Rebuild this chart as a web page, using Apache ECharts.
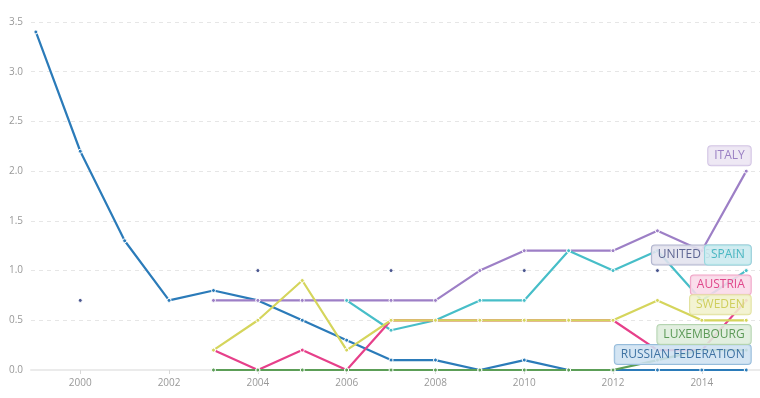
<!DOCTYPE html>
<html>
<head>
<meta charset="utf-8">
<script src="https://cdn.jsdelivr.net/npm/echarts@6/dist/echarts.min.js"></script>
<style>
  html, body { margin: 0; padding: 0; background: #fff; }
  #chart { width: 760px; height: 398px; }
</style>
</head>
<body>
<div id="chart"></div>
<script>
// years on the x axis
const years = [1999, 2000, 2001, 2002, 2003, 2004, 2005, 2006, 2007, 2008, 2009, 2010, 2011, 2012, 2013, 2014, 2015];
const yearTicks = [2000, 2002, 2004, 2006, 2008, 2010, 2012, 2014];

// values per country, null = no data
const russia     = [3.4, 2.2, 1.3, 0.7, 0.8, 0.7, 0.5, 0.3, 0.1, 0.1, 0.0, 0.1, 0.0, 0.0, 0.0, 0.0, 0.0];
const italy      = [null, null, null, null, 0.7, 0.7, 0.7, 0.7, 0.7, 0.7, 1.0, 1.2, 1.2, 1.2, 1.4, 1.2, 2.0];
const usa        = [null, 0.7, null, null, null, 1.0, null, null, 1.0, null, null, 1.0, null, null, 1.0, null, 1.0];
const spain      = [null, null, null, null, null, null, null, 0.7, 0.4, 0.5, 0.7, 0.7, 1.2, 1.0, 1.2, 0.7, 1.0];
const austria    = [null, null, null, null, 0.2, 0.0, 0.2, 0.0, 0.5, 0.5, 0.5, 0.5, 0.5, 0.5, 0.2, 0.2, 0.7];
const sweden     = [null, null, null, null, 0.2, 0.5, 0.9, 0.2, 0.5, 0.5, 0.5, 0.5, 0.5, 0.5, 0.7, 0.5, 0.5];
const luxembourg = [null, null, null, null, 0.0, 0.0, 0.0, 0.0, 0.0, 0.0, 0.0, 0.0, 0.0, 0.0, 0.1, 0.2, 0.2];

const countries = [
  { name: 'RUSSIAN FEDERATION', values: russia, color: '#2b7bb9', text: '#3f73a3', bg: [206, 225, 241], bd: [150, 188, 219] },
  { name: 'ITALY', values: italy, color: '#9d7fc6', text: '#9b80c4', bg: [236, 229, 243], bd: [210, 196, 228] },
  { name: 'UNITED STATES', values: usa, color: '#4a568f', text: '#5d6592', bg: [226, 227, 238], bd: [176, 180, 206] },
  { name: 'SPAIN', values: spain, color: '#47bec8', text: '#4ab8c3', bg: [207, 238, 241], bd: [150, 215, 222] },
  { name: 'AUSTRIA', values: austria, color: '#e6408a', text: '#e0488c', bg: [249, 218, 232], bd: [240, 163, 198] },
  { name: 'SWEDEN', values: sweden, color: '#d5d55c', text: '#cfcf5e', bg: [241, 241, 204], bd: [226, 226, 160] },
  { name: 'LUXEMBOURG', values: luxembourg, color: '#5c9e57', text: '#5d9a58', bg: [222, 237, 220], bd: [180, 212, 176] }
];

const font = 'Open Sans';

const buildData = (c) => {
  let last = -1;
  c.values.forEach((v, i) => { if (v !== null) last = i; });
  return years.map((y, i) => {
    const v = c.values[i];
    if (v === null) return [y, null];
    if (i !== last) return [y, v];
    // end label on the last point
    return {
      value: [y, v],
      label: {
        show: true,
        formatter: c.name,
        position: [7, -13],
        align: 'right',
        verticalAlign: 'middle',
        fontFamily: font,
        fontSize: 12,
        lineHeight: 14,
        color: c.text,
        backgroundColor: 'rgba(' + c.bg.join(',') + ',0.88)',
        borderColor: 'rgb(' + c.bd.join(',') + ')',
        borderWidth: 1,
        borderRadius: 3,
        padding: [3, 6, 2, 6]
      }
    };
  });
};

const chart = echarts.init(document.getElementById('chart'));

const option = {
  animation: false,
  grid: { left: 31, right: 0, top: 22, bottom: 28 },
  xAxis: {
    type: 'value',
    min: 1998.89,
    max: 2015.31,
    axisLine: { show: true, lineStyle: { color: '#ebebeb', width: 2 } },
    axisTick: {
      show: true,
      length: 4,
      customValues: yearTicks,
      lineStyle: { color: '#d8d8d8' }
    },
    axisLabel: {
      customValues: yearTicks,
      margin: 8,
      color: '#999',
      fontFamily: font,
      fontSize: 10,
      formatter: (v) => String(v)
    },
    splitLine: { show: false }
  },
  yAxis: {
    type: 'value',
    min: 0,
    max: 3.5,
    interval: 0.5,
    axisLine: { show: false },
    axisTick: { show: false },
    axisLabel: {
      margin: 8,
      color: '#999',
      fontFamily: font,
      fontSize: 10,
      formatter: (v) => v.toFixed(1)
    },
    splitLine: { show: true, lineStyle: { color: '#e6e6e6', type: [4, 4] } }
  },
  series: countries.map((c) => ({
    name: c.name,
    type: 'line',
    data: buildData(c),
    connectNulls: false,
    symbol: 'circle',
    symbolSize: 4,
    showSymbol: true,
    lineStyle: { color: c.color, width: 2.2 },
    itemStyle: { color: c.color, borderColor: '#fff', borderWidth: 1 },
    emphasis: { disabled: true }
  }))
};

chart.setOption(option);
</script>
</body>
</html>
